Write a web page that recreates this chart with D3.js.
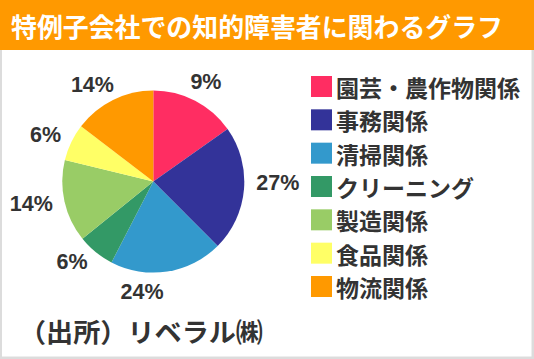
<!DOCTYPE html>
<html><head><meta charset="utf-8">
<script src="https://cdn.jsdelivr.net/npm/d3@7"></script>
<style>html,body{margin:0;padding:0;background:#fff;}svg{display:block;}</style>
</head><body>
<script>
const title = "特例子会社での知的障害者に関わるグラフ";
const categories = ["園芸・農作物関係","事務関係","清掃関係","クリーニング","製造関係","食品関係","物流関係"];
const shares = [15.2, 22.3, 20.1, 6.6, 14.6, 6.6, 14.6];
const labels = ["9%","27%","24%","6%","14%","6%","14%"];
const colors = ["#FF2D62","#333399","#3399CC","#339966","#99CC66","#FFFF66","#FF9900"];
const source = "（出所）リベラル㈱";

const W = 534, H = 359;
const svg = d3.select("body").append("svg").attr("width", W).attr("height", H);
svg.append("rect").attr("width", W).attr("height", H).attr("fill", "#dcdcdc");
svg.append("rect").attr("x", 2).attr("y", 48).attr("width", 529.5).attr("height", 308.5).attr("fill", "#fff");
svg.append("rect").attr("x", 0).attr("y", 0).attr("width", W).attr("height", 50).attr("fill", "#FF9900");
svg.append("text").attr("x", 11).attr("y", 25).attr("dominant-baseline", "central")
  .attr("font-family", "'Noto Sans CJK JP'").attr("font-weight", 700).attr("font-size", 26)
  .attr("fill", "#fff").attr("textLength", 492).attr("lengthAdjust", "spacingAndGlyphs").text(title);

const cx = 153.3, cy = 181.6, r = 91;
const pie = d3.pie().sort(null).value(d => d);
const arcs = pie(shares);
const arc = d3.arc().innerRadius(0).outerRadius(r);
const g = svg.append("g").attr("transform", `translate(${cx},${cy})`);
g.selectAll("path").data(arcs).join("path").attr("d", arc).attr("fill", (d, i) => colors[i]);

const nudge = [-1, -4, 14, 4, 1, -1, -3];
const R = 103, fs = 21.5;
g.selectAll("text.lab").data(arcs).join("text").attr("class", "lab")
  .attr("font-family", "'Liberation Sans', 'Noto Sans CJK JP'").attr("font-weight", 700)
  .attr("font-size", fs).attr("fill", "#333")
  .attr("text-anchor", "middle").attr("dominant-baseline", "central")
  .text((d, i) => labels[i])
  .each(function(d, i) {
    const a = (d.startAngle + d.endAngle) / 2 + nudge[i] * Math.PI / 180;
    const w = this.getComputedTextLength(), h = 16;
    const x = R * Math.sin(a) + w / 2 * Math.sin(a);
    const y = -R * Math.cos(a) - h / 2 * Math.cos(a);
    d3.select(this).attr("x", x).attr("y", y);
  });

const leg = svg.append("g");
const ly = d3.scalePoint().domain(categories).range([76, 276]);
leg.selectAll("rect").data(categories).join("rect")
  .attr("x", 311).attr("y", d => ly(d)).attr("width", 21).attr("height", 21)
  .attr("fill", (d, i) => colors[i]);
leg.selectAll("text").data(categories).join("text")
  .attr("x", 336).attr("y", d => ly(d) + 11).attr("dominant-baseline", "central")
  .attr("font-family", "'Noto Sans CJK JP'").attr("font-weight", 700).attr("font-size", 23)
  .attr("fill", "#333").text(d => d);

svg.append("text").attr("x", 19).attr("y", 330).attr("dominant-baseline", "central")
  .attr("font-family", "'Noto Sans CJK JP'").attr("font-weight", 700).attr("font-size", 26)
  .attr("fill", "#333").attr("textLength", 244).attr("lengthAdjust", "spacingAndGlyphs").text(source);
</script>
</body></html>
